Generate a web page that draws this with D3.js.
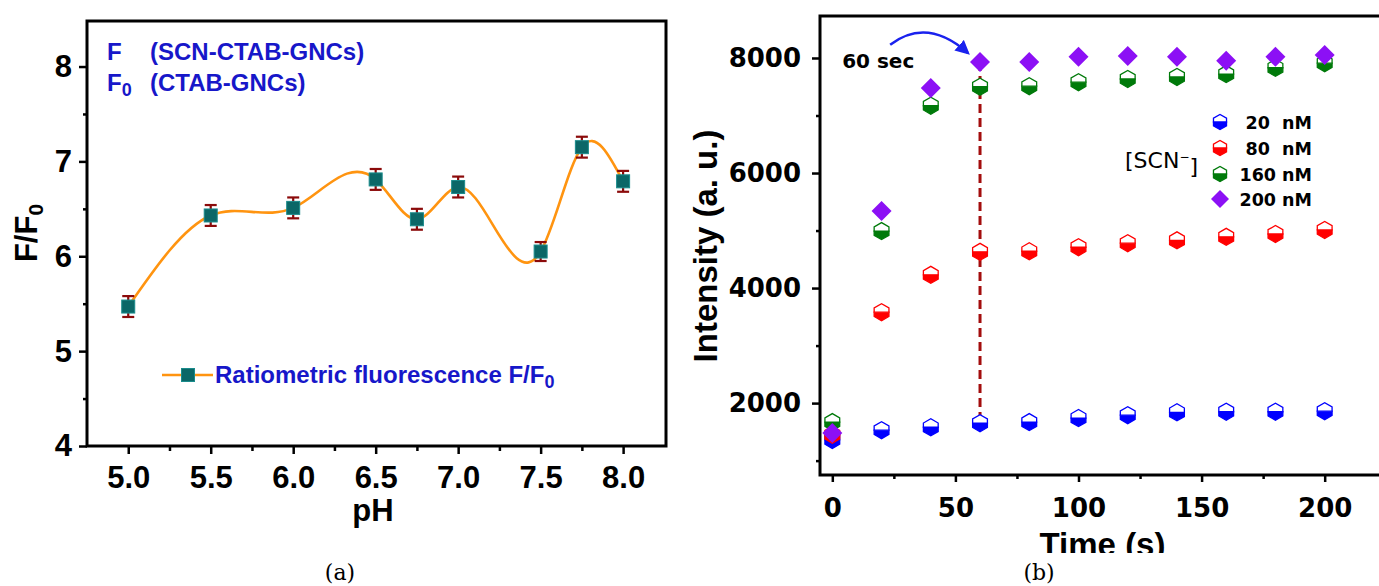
<!DOCTYPE html>
<html>
<head>
<meta charset="utf-8">
<script src="https://cdn.jsdelivr.net/npm/d3@7"></script>
<style>
  body { margin: 0; background: #fff; }
  svg { display: block; }
</style>
</head>
<body>
<div id="container"></div>
<script>
/* DATA: panel (a) */
const phValues    = [5.0, 5.5, 6.0, 6.5, 6.75, 7.0, 7.5, 7.75, 8.0];
const ratioValues = [5.47, 6.43, 6.51, 6.81, 6.39, 6.73, 6.05, 7.15, 6.79];
const ratioErrors = [0.11, 0.11, 0.11, 0.11, 0.11, 0.11, 0.1, 0.11, 0.11];
const phTicks     = [5.0, 5.5, 6.0, 6.5, 7.0, 7.5, 8.0];
const phMinor     = [5.25, 5.75, 6.25, 6.75, 7.25, 7.75];
const ratioTicks  = [4, 5, 6, 7, 8];
const ratioMinor  = [4.5, 5.5, 6.5, 7.5];

/* DATA: panel (b) */
const timeValues  = [0, 20, 40, 60, 80, 100, 120, 140, 160, 180, 200];
const scn20  = [1360, 1530, 1580, 1650, 1670, 1740, 1790, 1840, 1850, 1850, 1860];
const scn80  = [1450, 3580, 4230, 4630, 4640, 4710, 4780, 4830, 4890, 4940, 5010];
const scn160 = [1670, 4990, 7170, 7500, 7510, 7580, 7635, 7670, 7720, 7830, 7910];
const scn200 = [1480, 5340, 7480, 7930, 7930, 8020, 8035, 8020, 7950, 8020, 8050];
const seriesLabels = ["20  nM", "80  nM", "160 nM", "200 nM"];
const seriesColors = ["#0000ff", "#ff0000", "#007a0a", "#8c10f5"];
const timeTicks = [0, 50, 100, 150, 200];
const timeMinor = [25, 75, 125, 175];
const intensityTicks = [2000, 4000, 6000, 8000];
const intensityMinor = [1000, 3000, 5000, 7000];
const markTime = 60;

const width = 1379, height = 586;
const sans = "'Liberation Sans', Arial, sans-serif";
const deja = "'DejaVu Sans', sans-serif";
const textBlue = "#1717c9";

// natural cubic spline in x (like Origin's spline connector), drawn as beziers
function naturalSlopes(x, y) {
  const n = x.length - 1;
  const h = d3.range(n).map(i => x[i + 1] - x[i]);
  const s = d3.range(n).map(i => (y[i + 1] - y[i]) / h[i]);
  const M = new Array(n + 1).fill(0);
  const a = [], b = [], c = [], r = [];
  for (let i = 1; i < n; i++) {
    a.push(h[i - 1]); b.push(2 * (h[i - 1] + h[i])); c.push(h[i]); r.push(6 * (s[i] - s[i - 1]));
  }
  const k = b.length;
  for (let i = 1; i < k; i++) {
    const w = a[i] / b[i - 1];
    b[i] -= w * c[i - 1];
    r[i] -= w * r[i - 1];
  }
  const sol = new Array(k);
  sol[k - 1] = r[k - 1] / b[k - 1];
  for (let i = k - 2; i >= 0; i--) sol[i] = (r[i] - c[i] * sol[i + 1]) / b[i];
  for (let i = 1; i < n; i++) M[i] = sol[i - 1];
  const m = [];
  for (let i = 0; i < n; i++) m.push(s[i] - h[i] * (2 * M[i] + M[i + 1]) / 6);
  m.push(s[n - 1] + h[n - 1] * (M[n - 1] + 2 * M[n]) / 6);
  return m;
}
function NaturalX(context) { this._context = context; }
NaturalX.prototype = {
  areaStart() {}, areaEnd() {},
  lineStart() { this._x = []; this._y = []; },
  point(x, y) { this._x.push(+x); this._y.push(+y); },
  lineEnd() {
    const x = this._x, y = this._y, n = x.length, ctx = this._context;
    if (!n) return;
    ctx.moveTo(x[0], y[0]);
    if (n === 2) ctx.lineTo(x[1], y[1]);
    else if (n > 2) {
      const m = naturalSlopes(x, y);
      for (let i = 0; i < n - 1; i++) {
        const h = x[i + 1] - x[i];
        ctx.bezierCurveTo(x[i] + h / 3, y[i] + m[i] * h / 3,
                          x[i + 1] - h / 3, y[i + 1] - m[i + 1] * h / 3,
                          x[i + 1], y[i + 1]);
      }
    }
  }
};
const curveNaturalX = context => new NaturalX(context);

const svg = d3.select("#container")
  .append("svg")
  .attr("width", width)
  .attr("height", height)
  .style("background-color", "#fff");

/* ---------- PANEL A ---------- */
const a = {left: 87, right: 666, top: 21, bottom: 446};

const xA = d3.scaleLinear().domain([4.75, 8.26]).range([a.left, a.right]);
const yA = d3.scaleLinear().domain([4, 8.48]).range([a.bottom, a.top]);

const gA = svg.append("g");

function styleAxis(g, font, size) {
  g.select(".domain").remove();
  g.selectAll("line").attr("stroke", "#000").attr("stroke-width", 2.5);
  g.selectAll("text")
    .attr("fill", "#000")
    .style("font-family", font)
    .style("font-weight", "bold")
    .style("font-size", size + "px");
}

gA.append("g")
  .attr("transform", `translate(0,${a.bottom})`)
  .call(d3.axisBottom(xA).tickValues(phTicks).tickFormat(d3.format(".1f")).tickSize(8).tickPadding(12))
  .call(g => styleAxis(g, sans, 31));
gA.append("g")
  .attr("transform", `translate(0,${a.bottom})`)
  .call(d3.axisBottom(xA).tickValues(phMinor).tickFormat("").tickSize(5))
  .call(g => styleAxis(g, sans, 31));
gA.append("g")
  .attr("transform", `translate(${a.left},0)`)
  .call(d3.axisLeft(yA).tickValues(ratioTicks).tickFormat(d3.format("d")).tickSize(8).tickPadding(7))
  .call(g => styleAxis(g, sans, 31));
gA.append("g")
  .attr("transform", `translate(${a.left},0)`)
  .call(d3.axisLeft(yA).tickValues(ratioMinor).tickFormat("").tickSize(4))
  .call(g => styleAxis(g, sans, 31));

gA.append("rect")
  .attr("x", a.left).attr("y", a.top)
  .attr("width", a.right - a.left).attr("height", a.bottom - a.top)
  .attr("fill", "none").attr("stroke", "#000").attr("stroke-width", 3);

// spline
const ratioData = phValues.map((p, i) => ({ph: p, v: ratioValues[i], e: ratioErrors[i]}));
gA.append("path")
  .datum(ratioData)
  .attr("fill", "none")
  .attr("stroke", "#ff9410")
  .attr("stroke-width", 2.6)
  .attr("d", d3.line().x(d => xA(d.ph)).y(d => yA(d.v)).curve(curveNaturalX));

// error bars
const errG = gA.selectAll(".err").data(ratioData).join("g").attr("class", "err")
  .attr("stroke", "#8b0a0a").attr("stroke-width", 2.2);
errG.append("line")
  .attr("x1", d => xA(d.ph)).attr("x2", d => xA(d.ph))
  .attr("y1", d => yA(d.v + d.e)).attr("y2", d => yA(d.v - d.e));
errG.append("line")
  .attr("x1", d => xA(d.ph) - 6).attr("x2", d => xA(d.ph) + 6)
  .attr("y1", d => yA(d.v + d.e)).attr("y2", d => yA(d.v + d.e));
errG.append("line")
  .attr("x1", d => xA(d.ph) - 6).attr("x2", d => xA(d.ph) + 6)
  .attr("y1", d => yA(d.v - d.e)).attr("y2", d => yA(d.v - d.e));

// square markers
gA.selectAll(".sq").data(ratioData).join("rect").attr("class", "sq")
  .attr("x", d => xA(d.ph) - 6.5).attr("y", d => yA(d.v) - 6.5)
  .attr("width", 13).attr("height", 13)
  .attr("fill", "#0b6767").attr("stroke", "#1a8c8c").attr("stroke-width", 1);

// axis titles
gA.append("text")
  .attr("x", 373).attr("y", 521)
  .attr("text-anchor", "middle")
  .style("font-family", sans).style("font-weight", "bold").style("font-size", "31px")
  .text("pH");

const fLabel = gA.append("text")
  .attr("transform", "translate(37,233) rotate(-90)")
  .attr("text-anchor", "middle")
  .style("font-family", sans).style("font-weight", "bold").style("font-size", "31px");
fLabel.append("tspan").text("F/F");
fLabel.append("tspan").attr("dy", "0.28em").style("font-size", "21px").text("0");

// top legend
const legTop = gA.append("g")
  .style("font-family", sans).style("font-weight", "bold").style("font-size", "24px")
  .attr("fill", textBlue);
legTop.append("text").attr("x", 107).attr("y", 60).text("F");
legTop.append("text").attr("x", 150).attr("y", 60).text("(SCN-CTAB-GNCs)");
const f0 = legTop.append("text").attr("x", 107).attr("y", 91);
f0.append("tspan").text("F");
f0.append("tspan").attr("dy", "0.25em").style("font-size", "18px").text("0");
legTop.append("text").attr("x", 150).attr("y", 91).text("(CTAB-GNCs)");

// bottom legend
const legB = gA.append("g");
legB.append("line")
  .attr("x1", 162).attr("x2", 213).attr("y1", 375).attr("y2", 375)
  .attr("stroke", "#ff9410").attr("stroke-width", 2.6);
legB.append("rect")
  .attr("x", 188 - 6.5).attr("y", 375 - 6.5).attr("width", 13).attr("height", 13)
  .attr("fill", "#0b6767").attr("stroke", "#1a8c8c");
const legBText = legB.append("text")
  .attr("x", 215).attr("y", 383)
  .attr("fill", textBlue)
  .style("font-family", sans).style("font-weight", "bold").style("font-size", "24px");
legBText.append("tspan").text("Ratiometric fluorescence F/F");
legBText.append("tspan").attr("dy", "0.28em").style("font-size", "18px").text("0");

/* ---------- PANEL B ---------- */
const b = {left: 820, right: 1385, top: 16, bottom: 475};
const xB = d3.scaleLinear().domain([-5, 224.5]).range([b.left, b.right]);
const yB = d3.scaleLinear().domain([750, 8730]).range([b.bottom, b.top]);

svg.append("clipPath").attr("id", "clipB")
  .append("rect").attr("x", 690).attr("y", 0).attr("width", 700).attr("height", 553);

const gB = svg.append("g").attr("clip-path", "url(#clipB)");

gB.append("g")
  .attr("transform", `translate(0,${b.bottom})`)
  .call(d3.axisBottom(xB).tickValues(timeTicks).tickFormat(d3.format("d")).tickSize(7).tickPadding(17))
  .call(g => styleAxis(g, deja, 26));
gB.append("g")
  .attr("transform", `translate(0,${b.bottom})`)
  .call(d3.axisBottom(xB).tickValues(timeMinor).tickFormat("").tickSize(4))
  .call(g => styleAxis(g, deja, 26));
gB.append("g")
  .attr("transform", `translate(${b.left},0)`)
  .call(d3.axisLeft(yB).tickValues(intensityTicks).tickFormat(d3.format("d")).tickSize(8).tickPadding(11))
  .call(g => styleAxis(g, deja, 26));
gB.append("g")
  .attr("transform", `translate(${b.left},0)`)
  .call(d3.axisLeft(yB).tickValues(intensityMinor).tickFormat("").tickSize(4))
  .call(g => styleAxis(g, deja, 26));

gB.append("rect")
  .attr("x", b.left).attr("y", b.top)
  .attr("width", b.right - b.left).attr("height", b.bottom - b.top)
  .attr("fill", "none").attr("stroke", "#000").attr("stroke-width", 3);

// dashed guide at 60 s
const mi = timeValues.indexOf(markTime);
gB.append("line")
  .attr("x1", xB(markTime)).attr("x2", xB(markTime))
  .attr("y1", yB(scn200[mi])).attr("y2", yB(scn20[mi]))
  .attr("stroke", "#a30d0d").attr("stroke-width", 3)
  .attr("stroke-dasharray", "9,5");

// half-filled hexagon marker
function hexHalf(g, color, r) {
  const w = r * 0.87;
  g.append("path")
    .attr("d", `M${-w},0L${w},0L${w},${r / 2}L0,${r}L${-w},${r / 2}Z`)
    .attr("fill", color).attr("stroke", color).attr("stroke-width", 1.3);
  g.append("path")
    .attr("d", `M${-w},0L${-w},${-r / 2}L0,${-r}L${w},${-r / 2}L${w},0Z`)
    .attr("fill", "#fff").attr("stroke", color).attr("stroke-width", 1.3);
}
function diamond(g, color, r) {
  g.append("path")
    .attr("d", `M0,${-r}L${r},0L0,${r}L${-r},0Z`)
    .attr("fill", color);
}

const seriesValues = [scn20, scn80, scn160, scn200];
seriesValues.forEach((vals, si) => {
  gB.append("g").selectAll("g")
    .data(timeValues.map((t, i) => ({t, v: vals[i]})))
    .join("g")
    .attr("transform", d => `translate(${xB(d.t)},${yB(d.v)})`)
    .each(function () {
      if (si === 3) diamond(d3.select(this), seriesColors[si], 10);
      else hexHalf(d3.select(this), seriesColors[si], 8.5);
    });
});

// legend
const legRows = [122, 148, 174, 199];
seriesLabels.forEach((lab, i) => {
  const g = gB.append("g").attr("transform", `translate(1220,${legRows[i]})`);
  if (i === 3) diamond(g, seriesColors[i], 9);
  else hexHalf(g, seriesColors[i], 7.5);
  gB.append("text")
    .attr("x", 1312).attr("y", legRows[i] + 6.5)
    .attr("text-anchor", "end")
    .attr("xml:space", "preserve")
    .style("white-space", "pre")
    .style("font-family", deja).style("font-weight", "bold").style("font-size", "17.5px")
    .text(lab);
});
const scn = gB.append("text")
  .attr("x", 1125).attr("y", 168)
  .style("font-family", deja).style("font-size", "22px");
scn.append("tspan").text("[SCN");
scn.append("tspan").attr("dy", "-0.6em").style("font-size", "12px").text("\u2212");
scn.append("tspan").attr("dy", "0.6em").text("]");

// 60 sec annotation
gB.append("text")
  .attr("x", xB(4)).attr("y", yB(7830))
  .style("font-family", deja).style("font-weight", "bold").style("font-size", "20px")
  .text("60 sec");

svg.append("defs").append("marker")
  .attr("id", "arrowHead")
  .attr("viewBox", "0 0 10 10").attr("refX", 8).attr("refY", 5)
  .attr("markerWidth", 5.5).attr("markerHeight", 5.5)
  .attr("orient", "auto")
  .append("path").attr("d", "M0,0L10,5L0,10Z").attr("fill", "#1a22ee");

const ax0 = xB(23.5), ay0 = yB(8230), ax1 = xB(55), ay1 = yB(8090);
gB.append("path")
  .attr("d", `M${ax0},${ay0}Q${(ax0 + ax1) / 2 - 2},${ay0 - 28} ${ax1},${ay1}`)
  .attr("fill", "none").attr("stroke", "#1a22ee").attr("stroke-width", 2.6)
  .attr("marker-end", "url(#arrowHead)");

// axis titles
gB.append("text")
  .attr("x", (b.left + b.right) / 2).attr("y", 556)
  .attr("text-anchor", "middle")
  .style("font-family", sans).style("font-weight", "bold").style("font-size", "33px")
  .text("Time (s)");
gB.append("text")
  .attr("transform", "translate(717,246) rotate(-90)")
  .attr("text-anchor", "middle")
  .style("font-family", sans).style("font-weight", "bold").style("font-size", "33px")
  .text("Intensity (a. u.)");

/* captions */
svg.selectAll(".cap").data([["(a)", 340], ["(b)", 1039]]).join("text")
  .attr("class", "cap")
  .attr("x", d => d[1]).attr("y", 580)
  .attr("text-anchor", "middle")
  .style("font-family", "'DejaVu Serif', serif").style("font-size", "22px")
  .text(d => d[0]);
</script>
</body>
</html>
